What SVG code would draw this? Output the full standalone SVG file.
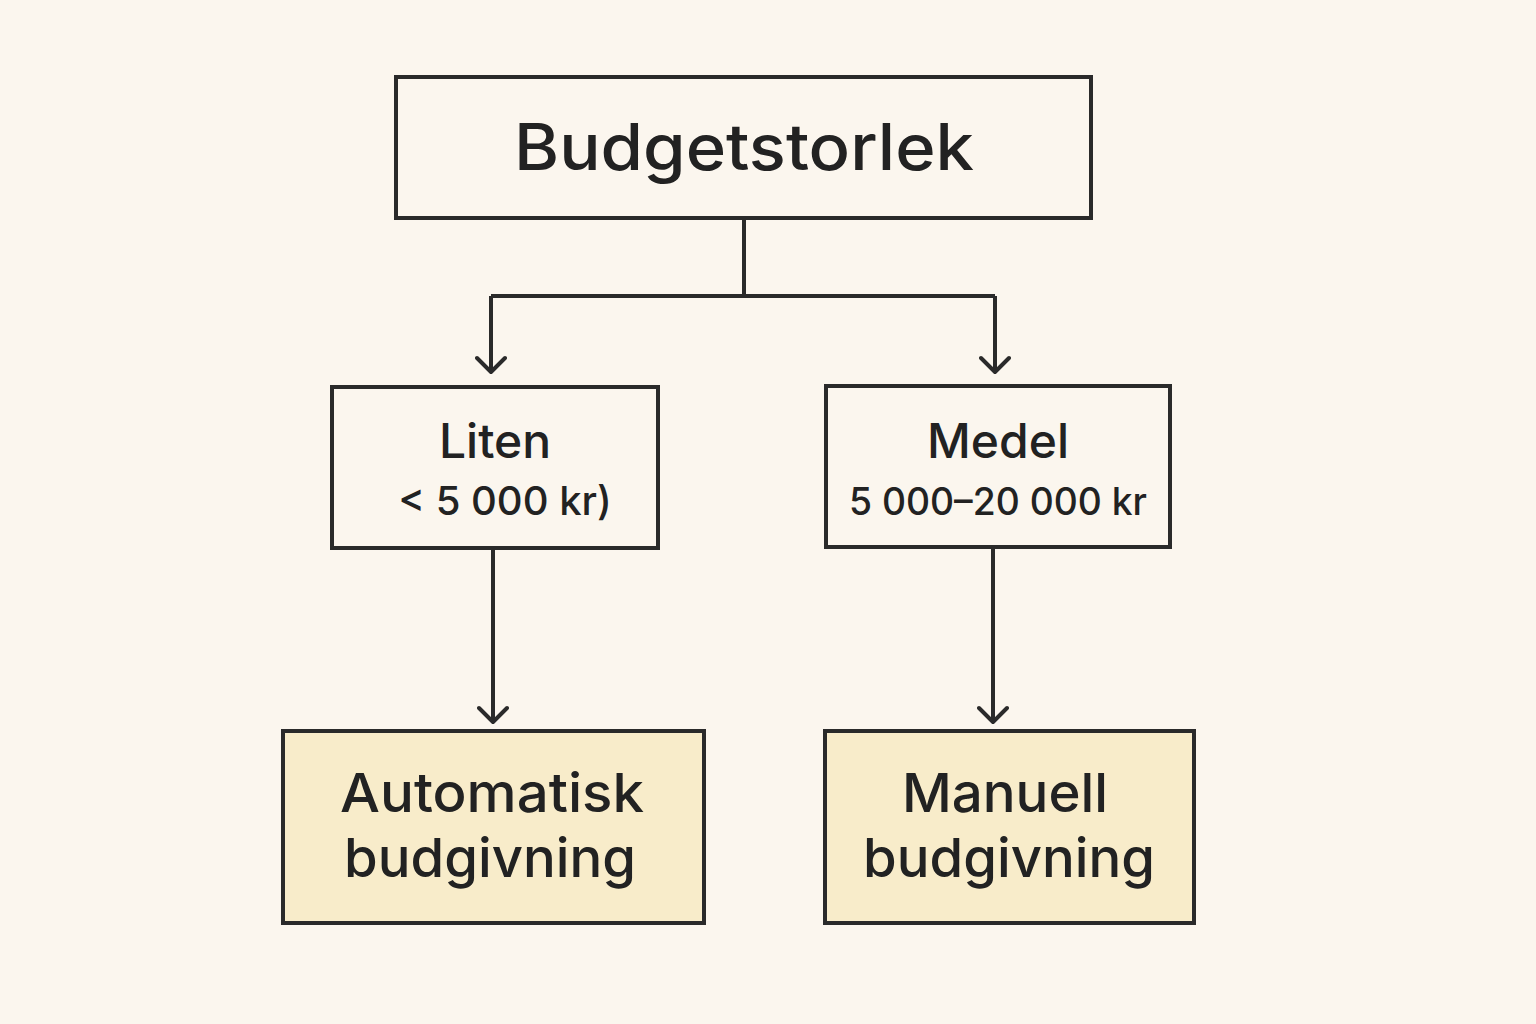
<svg xmlns="http://www.w3.org/2000/svg" width="1536" height="1024" viewBox="0 0 1536 1024">
<defs>
<marker id="arr" markerWidth="32" markerHeight="32" refX="26" refY="16" orient="auto" markerUnits="userSpaceOnUse" viewBox="0 0 32 32">
<path d="M12 2 L26 16 L12 30" fill="none" stroke="#2a2a2a" stroke-width="4" stroke-linecap="round" stroke-linejoin="round"/>
</marker>
</defs>
<style>
.box{fill:none;stroke:#2a2a2a;stroke-width:4}
.res{fill:#f8ecca;stroke:#2a2a2a;stroke-width:4}
.ln{fill:none;stroke:#2a2a2a;stroke-width:4}
text{font-family:"Inter","Liberation Sans",sans-serif;fill:#222;text-anchor:middle;font-weight:500}
</style>
<rect width="1536" height="1024" fill="#fbf6ee"/>
<g id="connectors">
<path class="ln" d="M744 218 V296 M491 296 H995"/>
<path class="ln" d="M491 296 V372" marker-end="url(#arr)"/>
<path class="ln" d="M995 296 V372" marker-end="url(#arr)"/>
<path class="ln" d="M493 548 V722" marker-end="url(#arr)"/>
<path class="ln" d="M993 548 V722" marker-end="url(#arr)"/>
</g>
<g id="budget">
<rect class="box" x="396" y="77" width="695" height="141"/>
<text x="744" y="170" font-size="64" textLength="460" lengthAdjust="spacingAndGlyphs">Budgetstorlek</text>
</g>
<g id="liten">
<rect class="box" x="332" y="387" width="326" height="161"/>
<text x="495" y="458" font-size="48">Liten</text>
<text x="505" y="515" font-size="40">&lt; 5 000 kr)</text>
</g>
<g id="medel">
<rect class="box" x="826" y="386" width="344" height="161"/>
<text x="998" y="458" font-size="48">Medel</text>
<text x="998" y="515" font-size="38" textLength="298" lengthAdjust="spacingAndGlyphs">5 000–20 000 kr</text>
</g>
<g id="auto">
<rect class="res" x="283" y="731" width="421" height="192"/>
<text x="492" y="812" font-size="54" textLength="304" lengthAdjust="spacingAndGlyphs">Automatisk</text>
<text x="490" y="877" font-size="54" textLength="292" lengthAdjust="spacingAndGlyphs">budgivning</text>
</g>
<g id="manuell">
<rect class="res" x="825" y="731" width="369" height="192"/>
<text x="1005" y="812" font-size="54" textLength="206" lengthAdjust="spacingAndGlyphs">Manuell</text>
<text x="1009" y="877" font-size="54" textLength="292" lengthAdjust="spacingAndGlyphs">budgivning</text>
</g>
</svg>
